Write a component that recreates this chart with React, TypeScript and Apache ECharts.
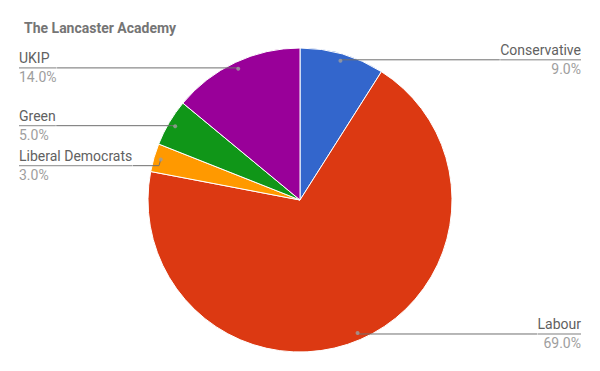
import React, { useEffect, useRef } from "react";
import * as echarts from "echarts";

const TITLE = "The Lancaster Academy";
const PARTIES = ["Conservative", "Labour", "Liberal Democrats", "Green", "UKIP"];
const SHARES = [9, 69, 3, 5, 14];
const COLORS = ["#3366cc", "#dc3912", "#ff9900", "#109618", "#990099"];

export default function App() {
  const ref = useRef<HTMLDivElement>(null);
  useEffect(() => {
    document.body.style.margin = "0";
    const chart = echarts.init(ref.current!, null, { renderer: "svg" });
    const total = SHARES.reduce((a, b) => a + b, 0);
    let cum = 0;
    const mids = SHARES.map((v) => {
      const m = ((cum + v / 2) / total) * 100;
      cum += v;
      return m;
    });
    const data = PARTIES.map((name, i) => ({ name, value: SHARES[i] }));
    chart.setOption({
      animation: false,
      title: {
        text: TITLE,
        left: 19,
        top: 16,
        textStyle: {
          fontFamily: "Roboto",
          fontSize: 14,
          fontWeight: "bold",
          color: "#757575",
        },
      },
      polar: { center: [300, 200], radius: 145 },
      angleAxis: {
        type: "value",
        min: 0,
        max: 100,
        startAngle: 90,
        clockwise: true,
        show: false,
      },
      radiusAxis: { type: "value", min: 0, max: 1, show: false },
      series: [
        {
          type: "pie",
          center: [300, 200],
          radius: 152,
          startAngle: 90,
          clockwise: true,
          silent: true,
          label: { show: false },
          labelLine: { show: false },
          itemStyle: { borderColor: "#ffffff", borderWidth: 1 },
          color: COLORS,
          data,
        },
        {
          type: "pie",
          center: [300, 200],
          radius: 145,
          startAngle: 90,
          clockwise: true,
          silent: true,
          z: 3,
          itemStyle: { color: "rgba(0,0,0,0)", borderWidth: 0 },
          label: {
            show: true,
            position: "outside",
            alignTo: "edge",
            edgeDistance: 19,
            distanceToLabelLine: 0,
            fontFamily: "Roboto",
            formatter: (p: any) =>
              `{name|${p.name}}\n{hr|}\n{pct|${(p.percent as number).toFixed(1)}%}`,
            rich: {
              name: {
                fontFamily: "Roboto",
                fontSize: 14,
                color: "#616161",
                lineHeight: 19,
                height: 19,
              },
              hr: {
                width: "100%",
                height: 0,
                borderWidth: 0.5,
                borderColor: "#6f6f6f",
              },
              pct: {
                fontFamily: "Roboto",
                fontSize: 14,
                color: "#9e9e9e",
                lineHeight: 19,
                height: 19,
              },
            },
          },
          labelLine: {
            show: true,
            length: 1,
            length2: 10,
            lineStyle: { color: "#6f6f6f", width: 1 },
          },
          data,
        },
        {
          type: "scatter",
          coordinateSystem: "polar",
          symbolSize: 4,
          silent: true,
          z: 5,
          itemStyle: { color: "#9e9e9e" },
          data: mids.map((m) => [1, m]),
        },
      ],
    });
    return () => chart.dispose();
  }, []);
  return (
    <div
      ref={ref}
      style={{ position: "absolute", left: 0, top: 0, width: 600, height: 371 }}
    />
  );
}
